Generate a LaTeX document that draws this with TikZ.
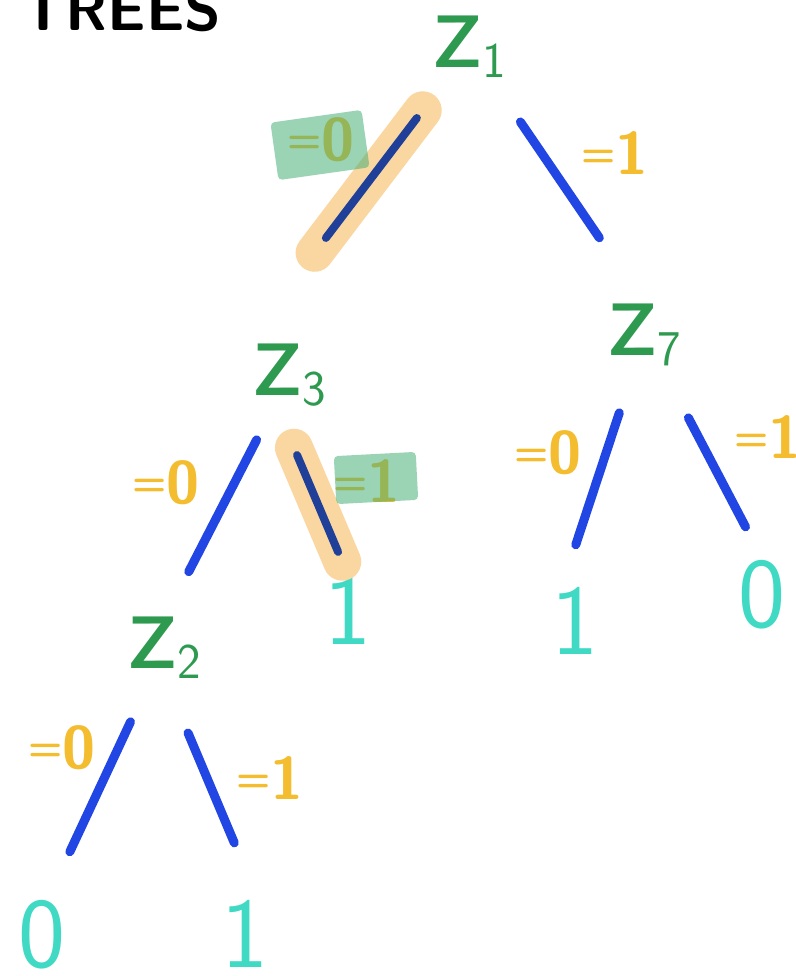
\documentclass[tikz,border=0pt]{standalone}
\usepackage{fontspec}
\usetikzlibrary{calc}
\definecolor{ZGreen}{HTML}{2E9A50}
\definecolor{LineBlue}{HTML}{2246E3}
\definecolor{Navy}{HTML}{1F3F99}
\definecolor{HiOrange}{HTML}{FAD7A0}
\definecolor{LabelYellow}{HTML}{F4BD2F}
\definecolor{MarkGreen}{HTML}{49B079}
\definecolor{LeafCyan}{HTML}{40D9C4}
\newcommand{\zvar}[1]{{\fontsize{120}{120}\selectfont z}\raisebox{-10pt}{\fontsize{50}{50}\selectfont #1}}
\newcommand{\eqlab}[1]{\raisebox{8pt}{\fontsize{40}{40}\selectfont =}{\fontsize{60}{60}\selectfont #1}}

\begin{document}
\begin{tikzpicture}[x=1pt,y=-1pt,every node/.style={font=\sffamily},
    varnode/.style={text=ZGreen,inner sep=0pt,minimum width=90pt,text height=50pt,text depth=10pt},
    leafnode/.style={text=LeafCyan,inner sep=0pt,minimum width=50pt,text height=69pt,text depth=0pt,font=\sffamily\fontsize{100}{100}\selectfont},
    eqlabel/.style={text=LabelYellow,inner sep=0pt,font=\sffamily\bfseries},
    branch/.style={draw=LineBlue,line width=9pt,line cap=round},
    picked/.style={draw=Navy,line width=8pt,line cap=round},
    glow/.style={draw=HiOrange,line width=38pt,line cap=round},
    greenmark/.style={fill=MarkGreen,fill opacity=0.55,rounded corners=4pt,inner sep=0pt}]
    \clip (0,0) rectangle (795,976);
    \fill[white] (0,0) rectangle (795,976);
    \node[anchor=base west,font=\sffamily\bfseries\fontsize{60}{60}\selectfont] (title) at (18,31) {TREES};

    \node[varnode] (z1) at (470,48) {\zvar{1}};
    \node[varnode] (z3) at (290,375) {\zvar{3}};
    \node[varnode] (z7) at (645,335) {\zvar{7}};
    \node[varnode] (z2) at (165,648) {\zvar{2}};
    \node[leafnode] (out3r) at (348,610) {1};
    \node[leafnode] (out7l) at (575,620) {1};
    \node[leafnode] (out7r) at (762,593) {0};
    \node[leafnode] (out2l) at (42,933) {0};
    \node[leafnode] (out2r) at (245,933) {1};

    \draw[glow] ($(z1)!.21!(z3.north west)$) -- ($(z1)!.69!(z3.north west)$);
    \draw[glow] ($(z3.245)!.25!(out3r.north)$) -- ($(z3.245)!.92!(out3r.north)$);

    \draw[picked] ($(z1)!.236!(z3.north west)$) -- ($(z1)!.64!(z3.north west)$);
    \draw[branch] ($(z1)!.288!(z7.north)$) -- ($(z1)!.739!(z7.north)$);
    \draw[branch] ($(z3)!.267!(z2.north)$) -- ($(z3)!.81!(z2.north)$);
    \draw[picked] ($(z3.245)!.293!(out3r.north)$) -- ($(z3.245)!.862!(out3r.north)$);
    \draw[branch] ($(z7)!.311!(out7l.110)$) -- ($(z7)!.838!(out7l.110)$);
    \draw[branch] ($(z7)!.371!(out7r.north)$) -- ($(z7)!.859!(out7r.north)$);
    \draw[branch] ($(z2)!.295!(out2l.80)$) -- ($(z2)!.814!(out2l.80)$);
    \draw[branch] ($(z2.south)!.249!(out2r.70)$) -- ($(z2.south)!.748!(out2r.70)$);

    \node[eqlabel] (lab1l) at (321,140) {\eqlab{0}};
    \node[eqlabel] (lab1r) at (615,153) {\eqlab{1}};
    \node[eqlabel] (lab3l) at (166,483) {\eqlab{0}};
    \node[eqlabel] (lab3r) at (367,481) {\eqlab{1}};
    \node[eqlabel] (lab7l) at (548,453) {\eqlab{0}};
    \node[eqlabel] (lab7r) at (768,437) {\eqlab{1}};
    \node[eqlabel] (lab2l) at (62,748) {\eqlab{0}};
    \node[eqlabel] (lab2r) at (270,778) {\eqlab{1}};

    \node[greenmark,minimum width=92pt,minimum height=58pt,rotate=8] (mark1l) at (320,145) {};
    \node[greenmark,minimum width=82pt,minimum height=48pt,rotate=3] (mark3r) at (376,478) {};
  \end{tikzpicture}
\end{document}
